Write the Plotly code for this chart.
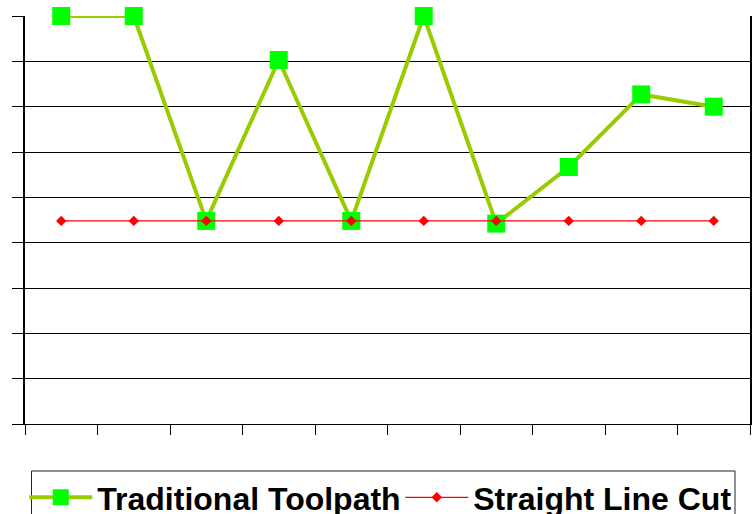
import plotly.graph_objects as go

categories = ["1", "2", "3", "4", "5", "6", "7", "8", "9", "10"]
traditional = [9.0, 9.0, 4.48, 8.03, 4.48, 9.0, 4.42, 5.67, 7.27, 7.0]
straight = [4.48] * 10

fig = go.Figure()
fig.add_trace(go.Scatter(
    x=categories, y=traditional, name="Traditional Toolpath",
    mode="lines+markers", cliponaxis=False,
    line=dict(color="#99CC00", width=4),
    marker=dict(symbol="square", size=18, color="#00FF00", line=dict(width=0)),
))
fig.add_trace(go.Scatter(
    x=categories, y=straight, name="Straight Line Cut",
    mode="lines+markers", cliponaxis=False,
    line=dict(color="#FF0000", width=1.3),
    marker=dict(symbol="diamond", size=8, color="#FF0000", line=dict(width=0)),
))

fig.update_layout(
    width=753, height=514,
    margin=dict(l=25, r=3, t=16, b=90, autoexpand=False),
    paper_bgcolor="white", plot_bgcolor="white",
    font=dict(family="Arial, Liberation Sans, sans-serif", color="black"),
    showlegend=True,
    legend=dict(
        orientation="h", x=-0.001, xanchor="left", y=(424 - 470) / 408, yanchor="top",
        font=dict(size=32, family="Arial, Liberation Sans, sans-serif", weight="bold", color="black"),
        borderwidth=0, bgcolor="rgba(0,0,0,0)",
        itemwidth=63, entrywidth=298, entrywidthmode="pixels",
    ),
    xaxis=dict(
        type="category", range=[-0.5, 9.5], showticklabels=False, showgrid=False,
        showline=True, linecolor="black", linewidth=1,
        ticks="outside", tickson="boundaries", ticklen=10, tickcolor="black",
        zeroline=False,
    ),
    yaxis=dict(
        range=[0, 9], dtick=1, showticklabels=False,
        showgrid=True, gridcolor="black", gridwidth=1,
        showline=True, linecolor="black", linewidth=1.5, mirror=True,
        ticks="outside", ticklen=11, tickcolor="black",
        zeroline=False,
    ),
    shapes=[dict(
        type="rect", xref="paper", yref="paper",
        x0=(31.5 - 25) / 725, x1=(735 - 25) / 725,
        y0=(424 - 471) / 408, y1=(424 - 540) / 408,
        line=dict(color="#222222", width=1), fillcolor="rgba(0,0,0,0)",
        layer="below",
    )],
)

fig.write_html(
    "out.html",
    config={"displayModeBar": False},
    post_script="document.body.style.margin='0';document.body.style.overflow='hidden';",
)
